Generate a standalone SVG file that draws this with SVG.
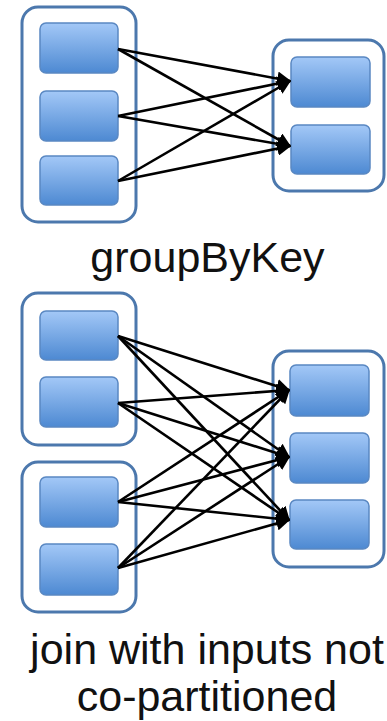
<svg xmlns="http://www.w3.org/2000/svg" width="387" height="721" viewBox="0 0 387 721">
<style>
.cont{fill:#fff;stroke:#4c78ad;stroke-width:3}
.box{fill:url(#g);stroke:#5a88c2;stroke-width:1.5}
.lbl{font-family:"Liberation Sans",Arial,sans-serif;font-size:43px;fill:#111;text-anchor:middle}
.e{stroke:#000;stroke-width:2.6;fill:none;marker-end:url(#a)}
</style>
<defs>
<linearGradient id="g" x1="0" y1="0" x2="0" y2="1">
<stop offset="0" stop-color="#a3c8f7"/>
<stop offset="1" stop-color="#4d89d2"/>
</linearGradient>
<marker id="a" viewBox="0 0 10 10" refX="9" refY="5" markerWidth="5.5" markerHeight="5.5" orient="auto" markerUnits="strokeWidth">
<path d="M0,0 L10,5 L0,10 z" fill="#000"/>
</marker>
</defs>
<g id="gbk-src">
<rect class="cont" x="22" y="7" width="114" height="215" rx="16"/>
<rect class="box" x="40" y="23" width="78" height="50" rx="6"/>
<rect class="box" x="40" y="91" width="78" height="50" rx="6"/>
<rect class="box" x="40" y="156" width="78" height="49" rx="6"/>
</g>
<g id="gbk-dst">
<rect class="cont" x="273" y="40" width="111" height="151" rx="16"/>
<rect class="box" x="291" y="57" width="79" height="50" rx="6"/>
<rect class="box" x="291" y="125" width="79" height="49" rx="6"/>
</g>
<g id="join-src-a">
<rect class="cont" x="22" y="293" width="114" height="152" rx="16"/>
<rect class="box" x="40" y="311" width="78" height="49" rx="6"/>
<rect class="box" x="40" y="377" width="78" height="50" rx="6"/>
</g>
<g id="join-src-b">
<rect class="cont" x="22" y="462" width="114" height="150" rx="16"/>
<rect class="box" x="40" y="477" width="78" height="50" rx="6"/>
<rect class="box" x="40" y="544" width="78" height="51" rx="6"/>
</g>
<g id="join-dst">
<rect class="cont" x="273" y="351" width="111" height="216" rx="16"/>
<rect class="box" x="290" y="365" width="79" height="51" rx="6"/>
<rect class="box" x="290" y="433" width="79" height="50" rx="6"/>
<rect class="box" x="290" y="500" width="79" height="49" rx="6"/>
</g>
<g id="connectors">
<line class="e" x1="118" y1="49" x2="290" y2="81"/>
<line class="e" x1="118" y1="49" x2="290" y2="146"/>
<line class="e" x1="118" y1="116" x2="290" y2="81"/>
<line class="e" x1="118" y1="116" x2="290" y2="146"/>
<line class="e" x1="118" y1="181" x2="290" y2="81"/>
<line class="e" x1="118" y1="181" x2="290" y2="146"/>
<line class="e" x1="118" y1="336" x2="289" y2="390"/>
<line class="e" x1="118" y1="336" x2="289" y2="457"/>
<line class="e" x1="118" y1="336" x2="289" y2="520"/>
<line class="e" x1="118" y1="403" x2="289" y2="390"/>
<line class="e" x1="118" y1="403" x2="289" y2="457"/>
<line class="e" x1="118" y1="403" x2="289" y2="520"/>
<line class="e" x1="118" y1="502" x2="289" y2="390"/>
<line class="e" x1="118" y1="502" x2="289" y2="457"/>
<line class="e" x1="118" y1="502" x2="289" y2="520"/>
<line class="e" x1="118" y1="568" x2="289" y2="390"/>
<line class="e" x1="118" y1="568" x2="289" y2="457"/>
<line class="e" x1="118" y1="568" x2="289" y2="520"/>
</g>
<text class="lbl" x="207.5" y="272">groupByKey</text>
<text class="lbl" x="207" y="664">join with inputs not</text>
<text class="lbl" x="207" y="711">co-partitioned</text>
</svg>
